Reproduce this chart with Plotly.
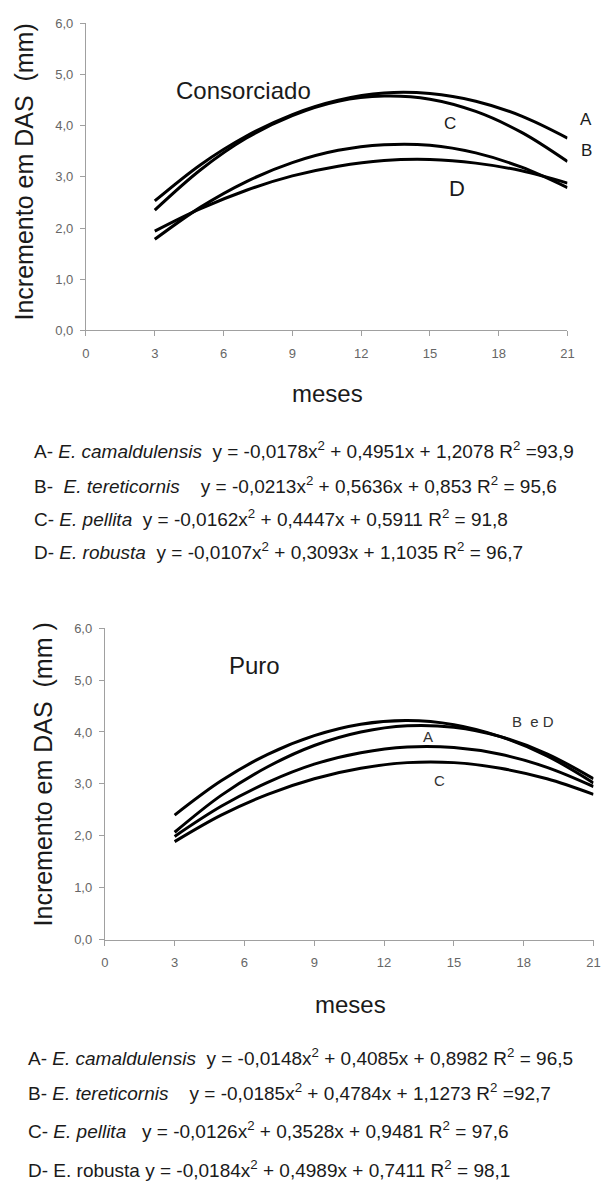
import plotly.graph_objects as go

W, H = 601, 1189

meses = [3, 5, 7, 9, 11, 13, 15, 17, 19, 21]

# Consorciado
cons_A = [2.53, 3.24, 3.80, 4.22, 4.50, 4.64, 4.63, 4.48, 4.19, 3.76]
cons_B = [2.35, 3.14, 3.76, 4.20, 4.48, 4.58, 4.52, 4.28, 3.87, 3.30]
cons_C = [1.78, 2.41, 2.91, 3.28, 3.52, 3.63, 3.62, 3.47, 3.19, 2.79]
cons_D = [1.94, 2.38, 2.74, 3.02, 3.21, 3.32, 3.34, 3.27, 3.12, 2.88]

# Puro
puro_A = [1.99, 2.57, 3.03, 3.38, 3.60, 3.71, 3.70, 3.57, 3.32, 2.95]
puro_B = [2.40, 3.06, 3.57, 3.93, 4.15, 4.22, 4.14, 3.91, 3.54, 3.02]
puro_C = [1.89, 2.40, 2.80, 3.10, 3.30, 3.41, 3.41, 3.30, 3.10, 2.80]
puro_D = [2.07, 2.78, 3.33, 3.74, 4.00, 4.12, 4.09, 3.91, 3.58, 3.10]

x_ticks = [0, 3, 6, 9, 12, 15, 18, 21]
y_ticks = [0, 1, 2, 3, 4, 5, 6]
y_ticktext = ["0,0", "1,0", "2,0", "3,0", "4,0", "5,0", "6,0"]

eq_cons = [
    "A- <i>E. camaldulensis</i>  y = -0,0178x<sup>2</sup> + 0,4951x + 1,2078 R<sup>2</sup> =93,9",
    "B-  <i>E. tereticornis</i>    y = -0,0213x<sup>2</sup> + 0,5636x + 0,853 R<sup>2</sup> = 95,6",
    "C- <i>E. pellita</i>  y = -0,0162x<sup>2</sup> + 0,4447x + 0,5911 R<sup>2</sup> = 91,8",
    "D- <i>E. robusta</i>  y = -0,0107x<sup>2</sup> + 0,3093x + 1,1035 R<sup>2</sup> = 96,7",
]
eq_puro = [
    "A- <i>E. camaldulensis</i>  y = -0,0148x<sup>2</sup> + 0,4085x + 0,8982 R<sup>2</sup> = 96,5",
    "B- <i>E. tereticornis</i>    y = -0,0185x<sup>2</sup> + 0,4784x + 1,1273 R<sup>2</sup> =92,7",
    "C- <i>E. pellita</i>   y = -0,0126x<sup>2</sup> + 0,3528x + 0,9481 R<sup>2</sup> = 97,6",
    "D- E. robusta y = -0,0184x<sup>2</sup> + 0,4989x + 0,7411 R<sup>2</sup> = 98,1",
]

FONT = "Liberation Sans, Arial, sans-serif"
TXT = "#1a1a1a"

fig = go.Figure()
for ys in [cons_A, cons_B, cons_C, cons_D]:
    fig.add_trace(go.Scatter(x=meses, y=ys, mode="lines", line=dict(color="black", width=3, shape="spline"),
                             xaxis="x", yaxis="y", showlegend=False, hoverinfo="skip"))
for ys in [puro_A, puro_B, puro_C, puro_D]:
    fig.add_trace(go.Scatter(x=meses, y=ys, mode="lines", line=dict(color="black", width=3, shape="spline"),
                             xaxis="x2", yaxis="y2", showlegend=False, hoverinfo="skip"))

def px_x(p):
    return p / W

def px_y(p):
    return 1 - p / H

axis_common = dict(showgrid=False, zeroline=False, showline=True, linecolor="#a0a0a0", linewidth=1,
                   ticks="outside", ticklen=5, tickcolor="#a0a0a0",
                   tickfont=dict(family=FONT, size=13, color="#666666"))

fig.update_layout(
    width=W, height=H, margin=dict(l=0, r=0, t=0, b=0),
    paper_bgcolor="white", plot_bgcolor="white",
    font=dict(family=FONT, color="black"),
    xaxis=dict(domain=[px_x(83.5), px_x(574)], range=[0, 21], tickvals=x_ticks, anchor="y",
               ticklabelstandoff=6, **axis_common),
    yaxis=dict(domain=[px_y(327.5), px_y(16.7)], range=[0, 6], tickvals=y_ticks, ticktext=y_ticktext,
               anchor="x", ticklabelstandoff=4, **axis_common),
    xaxis2=dict(domain=[px_x(102.7), px_x(600.5)], range=[0, 21], tickvals=x_ticks, anchor="y2",
                ticklabelstandoff=6, ticklabeloverflow="allow", **axis_common),
    yaxis2=dict(domain=[px_y(944.7), px_y(629)], range=[0, 6], tickvals=y_ticks, ticktext=y_ticktext,
                anchor="x2", ticklabelstandoff=4, **axis_common),
)

ann = []
def add(text, x, y, size, xref="paper", yref="paper", xanchor="center", yanchor="middle", angle=0, color=TXT):
    ann.append(dict(text=text, x=x, y=y, xref=xref, yref=yref, xanchor=xanchor, yanchor=yanchor,
                    textangle=angle, showarrow=False, font=dict(size=size, family=FONT, color=color)))

# y titles
add("Incremento em DAS  (mm)", px_x(20), px_y(167), 25, angle=-90)
add("Incremento em DAS  (mm )", px_x(40), px_y(777), 25, angle=-90)
# x titles
add("meses", px_x(329.5), px_y(391), 24)
add("meses", px_x(352.6), px_y(1010.6), 24)
# panel titles
add("Consorciado", 6.87, 4.68, 24, xref="x", yref="y")
add("Puro", 6.45, 5.28, 24, xref="x2", yref="y2")
# curve labels top
add("A", px_x(593), px_y(113.7), 17)
add("B", px_x(593), px_y(145.6), 17)
add("C", 15.87, 4.05, 17, xref="x", yref="y")
add("D", 16.17, 2.77, 22, xref="x", yref="y")
# curve labels bottom
add("B  e D", 18.4, 4.2, 15, xref="x2", yref="y2", color="#333")
add("A", 13.9, 3.91, 15, xref="x2", yref="y2", color="#333")
add("C", 14.4, 3.07, 15, xref="x2", yref="y2", color="#333")
# equations
for t, yy in zip(eq_cons, [449, 484, 518, 551]):
    add(t, px_x(28.7), px_y(yy), 19, xanchor="left")
for t, yy in zip(eq_puro, [1063, 1099, 1137, 1177]):
    add(t, px_x(22), px_y(yy), 19, xanchor="left")

fig.update_layout(annotations=ann)
fig.write_html("out.html")
